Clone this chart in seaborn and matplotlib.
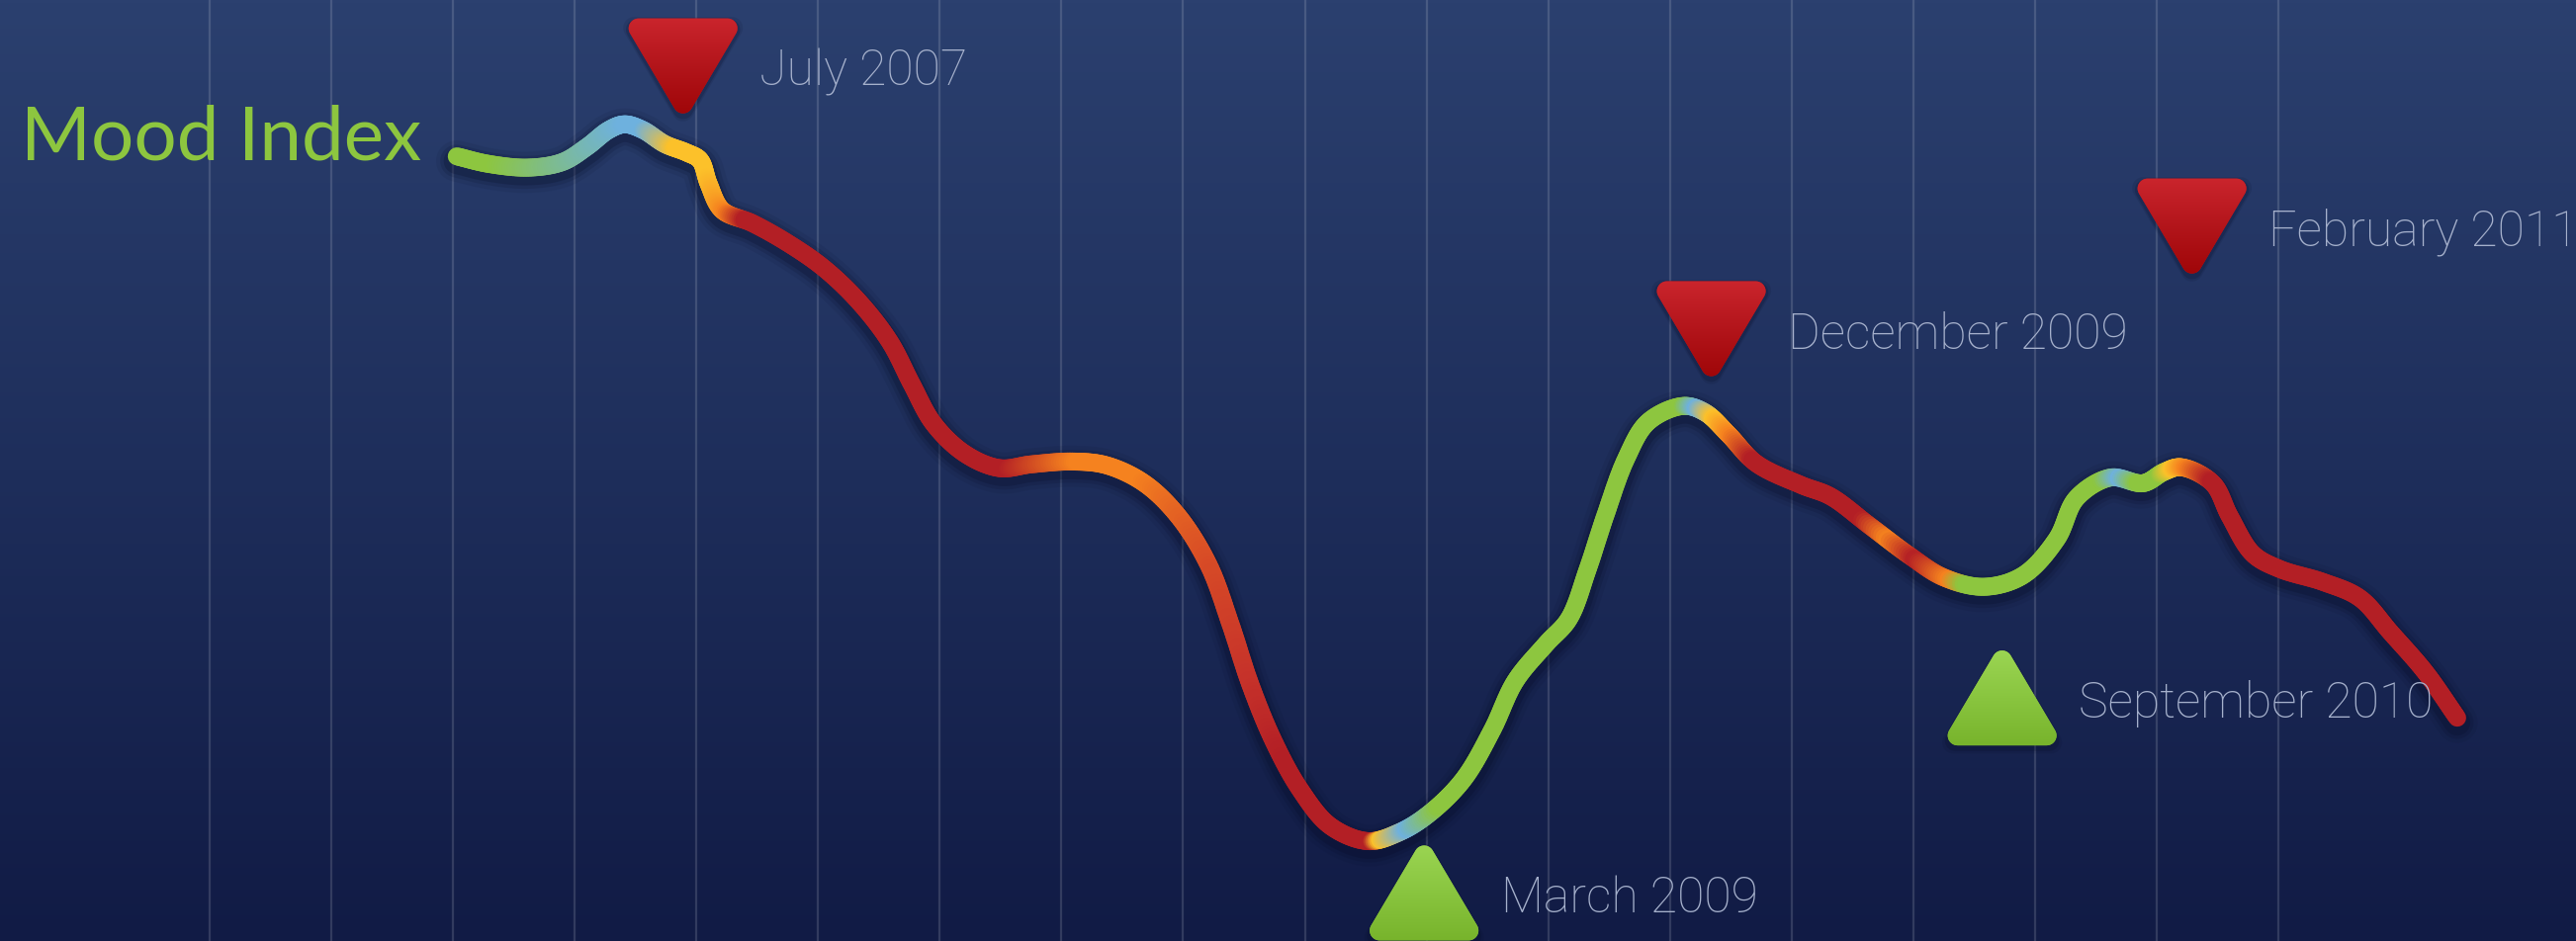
import numpy as np
import pandas as pd
import matplotlib.pyplot as plt
import seaborn as sns
from matplotlib.collections import LineCollection
from matplotlib.colors import LinearSegmentedColormap, to_rgb
from matplotlib.patches import Polygon
from matplotlib.transforms import ScaledTranslation

# mood index (x = position on the time grid, y = index value)
period = [2.03, 2.29, 2.62, 2.90, 3.10, 3.28, 3.41, 3.56, 3.74, 3.92,
          4.03, 4.10, 4.21, 4.46, 4.75, 5.05, 5.34, 5.59, 5.77, 5.95,
          6.21, 6.49, 6.75, 7.09, 7.37, 7.68, 7.96, 8.21, 8.39, 8.55,
          8.74, 8.96, 9.21, 9.52, 9.77, 10.01, 10.30, 10.54, 10.73, 10.98,
          11.17, 11.32, 11.47, 11.64, 11.82, 12.11, 12.29, 12.48, 12.71, 13.08,
          13.32, 13.64, 13.97, 14.25, 14.58, 14.90, 15.18, 15.34, 15.62, 15.89,
          16.06, 16.20, 16.46, 16.60, 16.79, 17.01, 17.37, 17.67, 17.92, 18.21,
          18.47]
mood = [83.3, 82.5, 82.1, 82.7, 84.3, 86.1, 86.7, 86.1, 84.6, 83.7,
        82.9, 80.4, 77.6, 76.2, 74.1, 71.4, 67.8, 63.6, 59.1, 54.9,
        51.7, 50.2, 50.6, 50.9, 50.5, 48.6, 45.1, 39.9, 33.6, 27.3,
        21.3, 16.1, 12.2, 10.6, 11.5, 13.4, 17.1, 22.4, 27.6, 31.5,
        34.2, 39.3, 45.2, 51.2, 55.1, 56.8, 56.1, 53.8, 50.7, 48.4,
        47.2, 44.1, 40.9, 38.6, 37.6, 38.8, 42.7, 47.0, 49.2, 48.6,
        49.8, 50.3, 48.6, 45.1, 41.1, 39.5, 38.1, 36.4, 32.8, 28.5,
        23.7]

# highlighted events
event_x = [3.89, 9.98, 12.34, 14.73, 16.29]
event_y = [92.9, 5.1, 65.0, 25.8, 75.9]
event_dir = ['down', 'up', 'down', 'up', 'down']
event_label = ['July 2007', 'March 2009', 'December 2009', 'September 2010', 'February 2011']

# colour of the line along the time grid
G, B, Y, O, R = '#8dc63f', '#6eb1de', '#fcc12a', '#f5821f', '#b31f25'
stop_x = [2.03, 2.34, 3.41, 3.56, 3.83, 4.08, 4.24, 4.40,
          6.55, 7.13, 7.65, 8.21, 8.55, 8.82,
          9.55, 9.62, 9.84, 10.10,
          12.10, 12.22, 12.36, 12.50, 12.68,
          13.58, 13.79, 14.02, 14.30, 14.43,
          15.55, 15.70, 15.85, 16.02, 16.13, 16.25, 16.45, 18.47]
stop_c = [G, G, B, B, Y, Y, O, R,
          R, O, O, '#d84c26', '#c6322a', R,
          R, Y, B, G,
          G, B, Y, O, R,
          R, O, R, O, G,
          G, B, G, G, Y, O, R, R]


def smooth_path(x, y, n=16):
    # centripetal catmull-rom through the read points, only for drawing
    sx, sy = 123.06, 9.53
    P = np.column_stack([np.asarray(x) * sx, np.asarray(y) * sy])
    P = np.vstack([2 * P[0] - P[1], P, 2 * P[-1] - P[-2]])
    out = []
    for i in range(1, len(P) - 2):
        p0, p1, p2, p3 = P[i - 1], P[i], P[i + 1], P[i + 2]
        t0 = 0.0
        t1 = t0 + np.linalg.norm(p1 - p0) ** 0.5
        t2 = t1 + np.linalg.norm(p2 - p1) ** 0.5
        t3 = t2 + np.linalg.norm(p3 - p2) ** 0.5
        t = np.linspace(t1, t2, n, endpoint=False)[:, None]
        a1 = (t1 - t) / (t1 - t0) * p0 + (t - t0) / (t1 - t0) * p1
        a2 = (t2 - t) / (t2 - t1) * p1 + (t - t1) / (t2 - t1) * p2
        a3 = (t3 - t) / (t3 - t2) * p2 + (t - t2) / (t3 - t2) * p3
        b1 = (t2 - t) / (t2 - t0) * a1 + (t - t0) / (t2 - t0) * a2
        b2 = (t3 - t) / (t3 - t1) * a2 + (t - t1) / (t3 - t1) * a3
        out.append((t2 - t) / (t2 - t1) * b1 + (t - t1) / (t2 - t1) * b2)
    out.append(P[-2][None, :])
    out = np.vstack(out)
    return out[:, 0] / sx, out[:, 1] / sy


def rounded_triangle(up, w=45, h=38, r=10, k=14):
    # outline in pixels around the centre, corners rounded with radius r
    if up:
        V = np.array([[-w, -h], [w, -h], [0, h]], float)
    else:
        V = np.array([[0, -h], [w, h], [-w, h]], float)
    pts = []
    for i in range(3):
        d1 = V[i] - V[i - 1]
        d2 = V[(i + 1) % 3] - V[i]
        a1 = np.arctan2(-d1[0], d1[1])
        a2 = np.arctan2(-d2[0], d2[1])
        if a2 < a1:
            a2 += 2 * np.pi
        for a in np.linspace(a1, a2, k):
            pts.append(V[i] + r * np.array([np.cos(a), np.sin(a)]))
    return np.array(pts) / 100.0


sns.set_theme(style='white')
plt.rcParams['font.family'] = ['Lato', 'DejaVu Sans']

fig = plt.figure(figsize=(26.05, 9.53), dpi=100)
ax = fig.add_axes([0, 0, 1, 1])
xlim = (-1.723, 19.446)
ylim = (0, 100)

# background gradient
bg = LinearSegmentedColormap.from_list('bg', ['#2b406f', '#1e2e5b', '#111b45'])
ax.imshow(np.linspace(0, 1, 256).reshape(-1, 1), extent=[*xlim, *ylim],
          aspect='auto', cmap=bg, zorder=0)

ax.set_xlim(*xlim)
ax.set_ylim(*ylim)
ax.set_xticks(range(18))
ax.set_axisbelow(True)
ax.grid(axis='x', color='white', alpha=0.14, lw=1.6)
ax.grid(axis='y', visible=False)
ax.tick_params(length=0, labelbottom=False, labelleft=False)
for s in ax.spines.values():
    s.set_visible(False)

sx_, sy_ = smooth_path(period, mood)
df = pd.DataFrame({'period': sx_, 'mood': sy_})

# soft shadow under the line
for w, a in [(30, 0.08), (24, 0.14), (19, 0.22)]:
    sns.lineplot(x=df['period'], y=df['mood'] - 0.5, ax=ax, color='#060b25',
                 lw=w, alpha=a, sort=False, estimator=None,
                 solid_capstyle='round', solid_joinstyle='round', zorder=2)

# gradient coloured line
pts = df[['period', 'mood']].to_numpy()
rgb = np.array([to_rgb(c) for c in stop_c])
segs = np.stack([pts[:-1], pts[1:]], axis=1)
xm = segs[:, :, 0].mean(axis=1)
cols = np.column_stack([np.interp(xm, stop_x, rgb[:, k]) for k in range(3)])
lc = LineCollection(segs, colors=cols, linewidths=13, capstyle='round',
                    joinstyle='round', zorder=3)
ax.add_collection(lc)

# event markers
red_fill = LinearSegmentedColormap.from_list('red', ['#cc262e', '#b3151b', '#9e0507'])
green_fill = LinearSegmentedColormap.from_list('green', ['#9cd654', '#89c53f', '#76b22a'])
grad = np.linspace(0, 1, 128).reshape(-1, 1)
for x, y, d, lab in zip(event_x, event_y, event_dir, event_label):
    is_up = d == 'up'
    outline = rounded_triangle(is_up)
    at = fig.dpi_scale_trans + ScaledTranslation(x, y, ax.transData)
    shadow_at = fig.dpi_scale_trans + ScaledTranslation(x, y - 0.35, ax.transData)
    for grow, a in [(1.10, 0.10), (1.05, 0.18)]:
        ax.add_patch(Polygon(outline * grow, closed=True, transform=shadow_at,
                             facecolor='#050a22', edgecolor='none', alpha=a, zorder=4))
    tri = Polygon(outline, closed=True, transform=at,
                  facecolor='#b3151b' if not is_up else '#89c53f',
                  edgecolor='none', zorder=5)
    ax.add_patch(tri)
    im = ax.imshow(grad, extent=[x - 0.5, x + 0.5, y - 5.5, y + 5.5],
                   cmap=green_fill if is_up else red_fill, aspect='auto', zorder=5.5)
    im.set_clip_path(tri)
    ax.text(x + 0.63, y - 2.0, lab, fontsize=36, color='#a6b1cc',
            family=['Roboto', 'DejaVu Sans'], fontweight='light',
            va='baseline', ha='left', zorder=6)

ax.set_xlim(*xlim)
ax.set_ylim(*ylim)

fig.text(0.008, 1 - 161 / 953, 'Mood Index', fontsize=55, color='#8dc63f',
         va='baseline', ha='left')

fig.savefig('out.png', dpi=100)
